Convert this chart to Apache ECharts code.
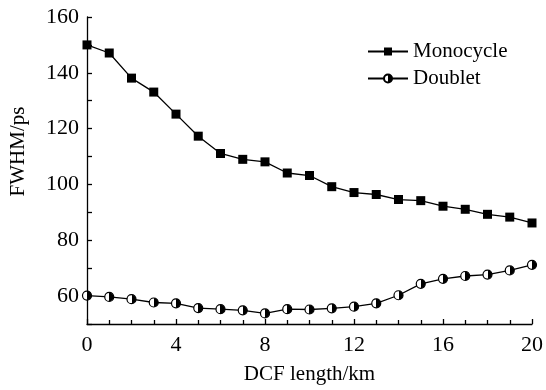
<!DOCTYPE html>
<html>
<head>
<meta charset="utf-8">
<script src="https://cdn.jsdelivr.net/npm/echarts@6/dist/echarts.min.js"></script>
<style>
html, body { margin: 0; padding: 0; background: #fff; }
#chart { width: 546px; height: 390px; }
</style>
</head>
<body>
<div id="chart"></div>
<script>
// DCF length (km)
var lengths = [0, 1, 2, 3, 4, 5, 6, 7, 8, 9, 10, 11, 12, 13, 14, 15, 16, 17, 18, 19, 20];
var monocycle = [150, 147.1, 138.1, 133.1, 125.2, 117.3, 111.1, 109, 108.1, 104.1, 103.2,
    99.2, 97.1, 96.4, 94.6, 94.2, 92.2, 91.1, 89.3, 88.3, 86.2];
var doublet = [60.2, 59.7, 58.9, 57.7, 57.4, 55.7, 55.3, 54.9, 53.8, 55.3, 55.2,
    55.6, 56.2, 57.4, 60.3, 64.4, 66.2, 67.2, 67.7, 69.2, 71.2];
var yLabels = [60, 80, 100, 120, 140, 160];

var font = 'Liberation Serif';

var halfFill = new echarts.graphic.LinearGradient(0, 0, 1, 0, [
    { offset: 0, color: '#fff' },
    { offset: 0.5, color: '#fff' },
    { offset: 0.5, color: '#000' },
    { offset: 1, color: '#000' }
]);

function pairs(ys) {
    return lengths.map(function (x, i) { return [x, ys[i]]; });
}

var axisCommon = {
    axisLine: { show: true, lineStyle: { color: '#000', width: 1.3 } },
    axisTick: { show: true, inside: true, length: 5, lineStyle: { color: '#000', width: 1.3 } },
    splitLine: { show: false },
    axisLabel: { color: '#000', fontFamily: font, fontSize: 22 },
    nameTextStyle: { color: '#000', fontFamily: font, fontSize: 21 }
};

var option = {
    backgroundColor: '#fff',
    animation: false,
    grid: { left: 85, right: 14, top: 17, bottom: 62 },
    legend: {
        orient: 'vertical',
        left: 362,
        top: 36,
        itemGap: 6,
        itemWidth: 40,
        itemHeight: 10,
        textStyle: { color: '#000', fontFamily: font, fontSize: 21 },
        data: ['Monocycle', 'Doublet']
    },
    xAxis: Object.assign({}, axisCommon, {
        type: 'value',
        min: 0,
        max: 20,
        interval: 4,
        minorTick: { show: true, splitNumber: 4, length: 4, lineStyle: { color: '#000', width: 1.3 } },
        axisLabel: Object.assign({}, axisCommon.axisLabel, { margin: 10 }),
        name: 'DCF length/km',
        nameLocation: 'middle',
        nameGap: 40
    }),
    yAxis: Object.assign({}, axisCommon, {
        type: 'value',
        min: 50,
        max: 160,
        interval: 10,
        axisLabel: Object.assign({}, axisCommon.axisLabel, {
            margin: 8,
            formatter: function (v) { return yLabels.indexOf(v) >= 0 ? String(v) : ''; }
        }),
        name: 'FWHM/ps',
        nameLocation: 'middle',
        nameGap: 58,
        nameTextStyle: Object.assign({}, axisCommon.nameTextStyle, { padding: [0, 0, 0, 38] })
    }),
    series: [{
        name: 'Monocycle',
        type: 'line',
        data: pairs(monocycle),
        symbol: 'rect',
        symbolSize: 9,
        lineStyle: { color: '#000', width: 1.3 },
        itemStyle: { color: '#000' }
    }, {
        name: 'Doublet',
        type: 'line',
        data: pairs(doublet),
        symbol: 'circle',
        symbolSize: 9,
        lineStyle: { color: '#000', width: 1.3 },
        itemStyle: { color: halfFill, borderColor: '#000', borderWidth: 1.2 }
    }]
};

var chart = echarts.init(document.getElementById('chart'));
chart.setOption(option);
</script>
</body>
</html>
